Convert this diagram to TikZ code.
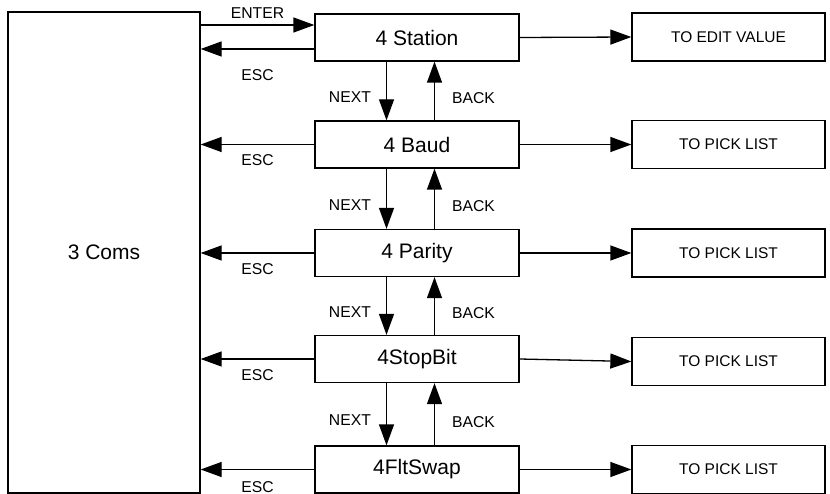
\documentclass[tikz,border=0pt]{standalone}
\usepackage{fontspec}
\setmainfont{Liberation Sans}
\usetikzlibrary{arrows.meta}
\begin{document}
\begin{tikzpicture}[x=1pt,y=-1pt,line width=1.3pt,
  menu/.style={draw,minimum width=204pt,minimum height=47pt,font=\fontsize{21}{24}\selectfont},
  goal/.style={draw,minimum width=193pt,minimum height=48pt,font=\fontsize{15.5}{18}\selectfont},
  key/.style={inner sep=0pt,font=\fontsize{15.7}{18}\selectfont},
  flow/.style={-{Triangle[length=21pt,width=15pt]}}]
  \useasboundingbox (0,0) rectangle (830,494);
  \node[menu,minimum width=192pt,minimum height=481pt] (coms) at (104,252.5) {3 Coms};
  \foreach \n/\y/\t in {st/37.5/4 Station, baud/144.5/4 Baud, par/253/4 Parity, stop/359/4StopBit, flt/469.5/4FltSwap} {
    \node[menu] (\n) at (417,\y) {\t};
  }
  \node[goal] (stR) at (728.5,37) {TO EDIT VALUE};
  \foreach \n/\y in {baud/144.5, par/253, stop/361.5, flt/469.5} {
    \node[goal] (\n R) at (728.5,\y) {TO PICK LIST};
  }
  % enter / escape
  \draw[flow] ([yshift=12.5pt]st.west -| coms.east) -- node[key,above=5.4pt] {ENTER} ([yshift=12.5pt]st.west);
  \draw[flow] ([yshift=-11.5pt]st.west) -- node[key,below=19.4pt] {ESC} ([yshift=-11.5pt]st.west -| coms.east);
  \foreach \n/\d in {baud/9.4, par/9.4, stop/9.4, flt/11} {
    \draw[flow] (\n.west) -- node[key,below=\d pt] {ESC} (\n.west -| coms.east);
  }
  % to the right
  \foreach \n in {st, baud, par, stop, flt} {
    \draw[flow] (\n.east) -- (\n R.west);
  }
  % next / back
  \foreach \a/\b in {st/baud, baud/par, par/stop, stop/flt} {
    \draw[flow] ([xshift=-30.5pt]\a.south) -- node[key,pos=0.6,left=15pt] {NEXT} ([xshift=-30.5pt]\b.north);
    \draw[flow] ([xshift=17.5pt]\b.north) -- node[key,pos=0.38,right=17pt] {BACK} ([xshift=17.5pt]\a.south);
  }
\end{tikzpicture}
\end{document}
